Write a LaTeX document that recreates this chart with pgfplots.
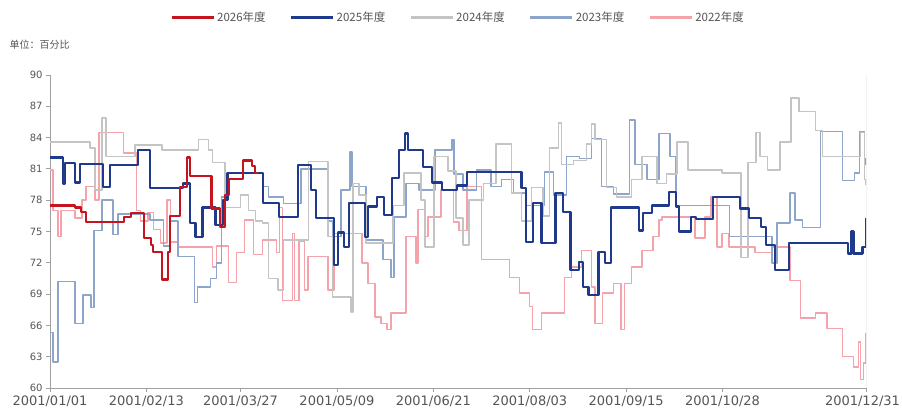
\documentclass[border=0pt]{standalone}
\usepackage{fontspec}
\setmainfont{DejaVu Sans}
\newfontfamily\cjk{Noto Sans CJK SC}
\usepackage{pgfplots}
\pgfplotsset{compat=1.18}
\definecolor{c26}{HTML}{C4141E}
\definecolor{c25}{HTML}{1F3A8A}
\definecolor{c24}{HTML}{C4C4C4}
\definecolor{c23}{HTML}{8DA5CB}
\definecolor{c22}{HTML}{F4A3AB}
\definecolor{axgray}{HTML}{A0A0A0}
\definecolor{txtgray}{HTML}{555555}
\begin{document}
\begin{tikzpicture}
\useasboundingbox (0,0) rectangle (902bp,411bp);
\node[anchor=west, text=txtgray, font=\cjk\fontsize{10bp}{12bp}\selectfont] at (6bp,366bp) {单位：百分比};
\begin{axis}[
  at={(50bp,23bp)}, anchor=south west,
  width=816bp, height=313bp, scale only axis,
  xmin=0, xmax=364, ymin=60, ymax=90,
  axis x line*=bottom, axis y line*=left,
  axis line style={axgray, line width=0.8bp},
  every axis plot/.append style={const plot, line join=round},
  ytick={60,63,...,90},
  xtick={0,43,85,128,171,214,257,300},
  xticklabels={2001/01/01,2001/02/13,2001/03/27,2001/05/09,2001/06/21,2001/08/03,2001/09/15,2001/10/28},
  extra x ticks={364},
  extra x tick labels={2001/12/31},
  extra x tick style={xticklabel style={xshift=-3.5bp}},
  /pgf/number format/assume math mode=true,
  yticklabel style={font=\fontsize{10bp}{12bp}\selectfont, text=txtgray},
  xticklabel style={font=\fontsize{13bp}{15bp}\selectfont, text=txtgray},
  tick align=outside, major tick length=4bp,
  tick style={axgray, line width=0.8bp},
  legend columns=5,
  legend style={at={(0.5,1.185)}, anchor=center, draw=none, fill=none,
    font=\cjk\fontsize{11.5bp}{13bp}\selectfont, text=txtgray,
    /tikz/every even column/.append style={column sep=22bp}},
  legend image code/.code={\draw[#1, line width=3bp] (0bp,0bp) -- (42bp,0bp);},
]
\addlegendimage{c26}
\addlegendimage{c25}
\addlegendimage{c24}
\addlegendimage{c23}
\addlegendimage{c22}
\legend{2026年度,2025年度,2024年度,2023年度,2022年度}

% 2022
\addplot[forget plot, c22, line width=1.5bp] coordinates {
(0,80.9)(1.3,77.0)(3.6,74.5)(4.9,77.0)(11.2,76.3)(14.3,78.0)(16.1,79.3)(20.1,78.0)(21.9,84.5)(32.7,82.5)
(38.5,77.0)(40.3,76.0)(43.8,76.8)(46.1,75.2)(49.2,73.9)(52.3,78.0)(53.7,74.0)(57.3,73.5)(72.5,71.6)(74.3,73.6)
(79.6,70.1)(83.2,73.0)(86.8,76.1)(90.8,72.8)(94.9,74.2)(101.1,73.0)(102.3,77.3)(103.7,68.4)(108.2,74.8)(109.1,68.4)
(111,74.1)(113.6,69.4)(115,72.6)(123.9,69.4)(126.6,74.8)(139.1,72.0)(141.8,70.0)(145,66.8)(147.6,66.2)(150.3,65.6)
(152.1,67.2)(158.8,74.5)(163.3,72.0)(164.2,77.1)(167.3,74.5)(168.7,76.4)(174.5,79.0)(179.9,75.9)(182.5,75.1)(186.1,79.3)
(192.4,72.3)(205,70.6)(209.4,69.1)(213.9,67.8)(215.2,65.6)(219.2,67.2)(229.5,70.6)(232.7,71.6)(237.1,73.2)(241.6,69.7)
(243,66.2)(246.5,69.1)(251.4,70.0)(254.6,65.6)(256.3,70.0)(259.5,71.6)(264,73.2)(268.9,74.5)(271.6,76.1)(272.9,76.4)
(287.7,74.4)(292.2,76.4)(294.9,78.3)(297.6,73.5)(299.8,74.8)(302.9,73.5)(314.5,73.0)(322.1,73.5)(330.2,70.3)(334.7,66.7)
(341.4,67.2)(346.7,65.7)(353.5,63.0)(358.4,62.0)(360.6,64.4)(361.5,60.8)(362.8,62.4)(364,65.3)
};
% 2023
\addplot[forget plot, c23, line width=1.5bp] coordinates {
(0,65.3)(1.3,62.5)(3.6,70.2)(11.2,66.2)(14.8,68.9)(18.3,67.7)(19.7,75.1)(23.3,78.0)(28.2,74.7)(30.4,76.7)
(44.7,76.1)(50.6,73.6)(53.7,76.0)(57.2,72.6)(64.4,68.2)(65.8,69.7)(71.6,70.5)(74.3,72.0)(76.5,78.3)(79.6,80.6)
(94.9,79.3)(97.5,78.3)(104.2,77.7)(111.9,81.0)(124,76.0)(126,74.5)(129.7,79.0)(133.8,82.6)(134.7,79.3)(141,74.2)
(148.5,72.3)(152.1,70.6)(153.5,76.4)(158.8,79.6)(164.6,79.0)(171.8,82.8)(179.4,83.8)(180.3,80.5)(184.3,79.0)(190.2,80.9)
(196.8,79.3)(201.3,80.0)(206.7,78.7)(212.5,77.5)(220.6,80.7)(224.6,78.5)(230.4,82.2)(236.2,82.0)(241.6,83.9)(246,79.3)
(251.4,78.6)(258.6,85.7)(260.9,81.4)(266.2,80.0)(271.6,84.4)(276.5,82.2)(279.2,77.5)(303,74.5)(322.1,72.0)(324.4,75.8)
(330.2,78.7)(332.4,76.1)(335.6,75.4)(343.6,84.6)(353.5,79.9)(358.9,80.6)(361.1,84.6)(363.3,81.4)(364,82.0)
};
% 2024
\addplot[forget plot, c24, line width=1.5bp] coordinates {
(0,83.6)(17.9,83.0)(20.1,79.0)(23.3,85.9)(25,82.2)(38,83.3)(50,82.8)(66.2,83.8)(70.7,82.8)(72.5,81.6)
(78,77.3)(85,78.5)(88.6,77.0)(91.7,76.0)(94.9,75.8)(97.5,70.5)(101.6,69.4)(104.2,74.2)(115.4,81.7)(124,74.5)
(126,68.7)(134.2,67.3)(135.1,79.6)(137.8,78.5)(141,73.9)(153,77.5)(158,80.6)(165.5,78.0)(167.3,73.5)(171.4,82.2)
(177.6,80.8)(181.2,76.3)(184.3,73.7)(187,78.0)(193.3,79.6)(199,83.4)(205.8,78.7)(210.3,76.0)(214.7,79.2)(220,76.5)
(222.8,83.0)(226.8,85.4)(228.2,81.4)(233.5,81.8)(239.3,83.4)(241.6,85.3)(243,83.8)(248.3,79.2)(252.8,78.3)(259.5,80.0)
(264,82.2)(270.7,79.6)(275.1,80.5)(279.6,83.6)(284.5,80.9)(299.8,80.6)(308.3,72.5)(311.4,81.6)(315,84.5)(316.8,82.2)
(320,80.9)(325.7,83.6)(330.6,87.8)(334.2,86.5)(341.4,84.7)(344.5,82.2)(361.5,84.5)(363.3,80.0)(364,79.5)
};
% 2025
\addplot[forget plot, c25, line width=2.2bp] coordinates {
(0,82.1)(5.8,79.6)(6.7,81.6)(11.2,79.7)(13.4,81.5)(23.7,79.3)(26.8,81.4)(39.4,82.8)(44.7,79.2)(59.5,79.6)
(62.6,75.8)(64.9,74.5)(68,77.3)(73.8,75.6)(77,78.0)(79.2,80.6)(94.9,77.7)(102,76.4)(110.5,81.4)(116.3,79.0)
(118.6,76.3)(126.6,71.8)(128.4,74.9)(131.1,73.5)(133.3,77.7)(140.5,74.5)(141.8,77.4)(145.9,78.3)(149,76.6)(152.6,80.1)
(155.7,82.8)(158.4,84.4)(159.7,82.8)(166.4,81.2)(170.5,79.7)(174.9,79.0)(181.6,79.4)(186.1,80.7)(210.3,79.2)(212.5,74.0)
(215.6,77.7)(219.2,73.9)(225.5,78.7)(229,76.9)(232.2,71.3)(235.8,72.1)(237.6,69.7)(240.2,68.9)(244.7,73.0)(247.4,72.0)
(250.1,77.3)(262.6,75.1)(264.4,76.8)(268.4,77.5)(276,78.8)(279.2,77.4)(280.5,75.0)(285.9,76.4)(288.1,76.2)(295.7,78.3)
(307.8,77.2)(311.8,76.3)(317.2,75.4)(319.4,73.7)(323.5,71.3)(329.7,73.9)(356.1,72.9)(357.5,75.0)(358.4,72.9)(362.4,73.5)
(364,76.3)
};
% 2026
\addplot[forget plot, c26, line width=2.2bp] coordinates {
(0,77.5)(11,77.3)(14,76.9)(16,75.9)(33,76.4)(36,76.8)(42,74.4)(45,73.7)(46,73.0)(50,70.4)
(52.5,73.0)(53.5,76.5)(58,79.3)(61,82.1)(62.5,80.3)(72,77.2)(76,75.4)(78,78.5)(80,80.0)(86,81.8)
(90,81.3)(91.5,80.6)(93,80.6)
};
\draw[axgray, line width=0.8bp] (rel axis cs:1,0) -- (rel axis cs:1,1);
\end{axis}
\end{tikzpicture}
\end{document}
